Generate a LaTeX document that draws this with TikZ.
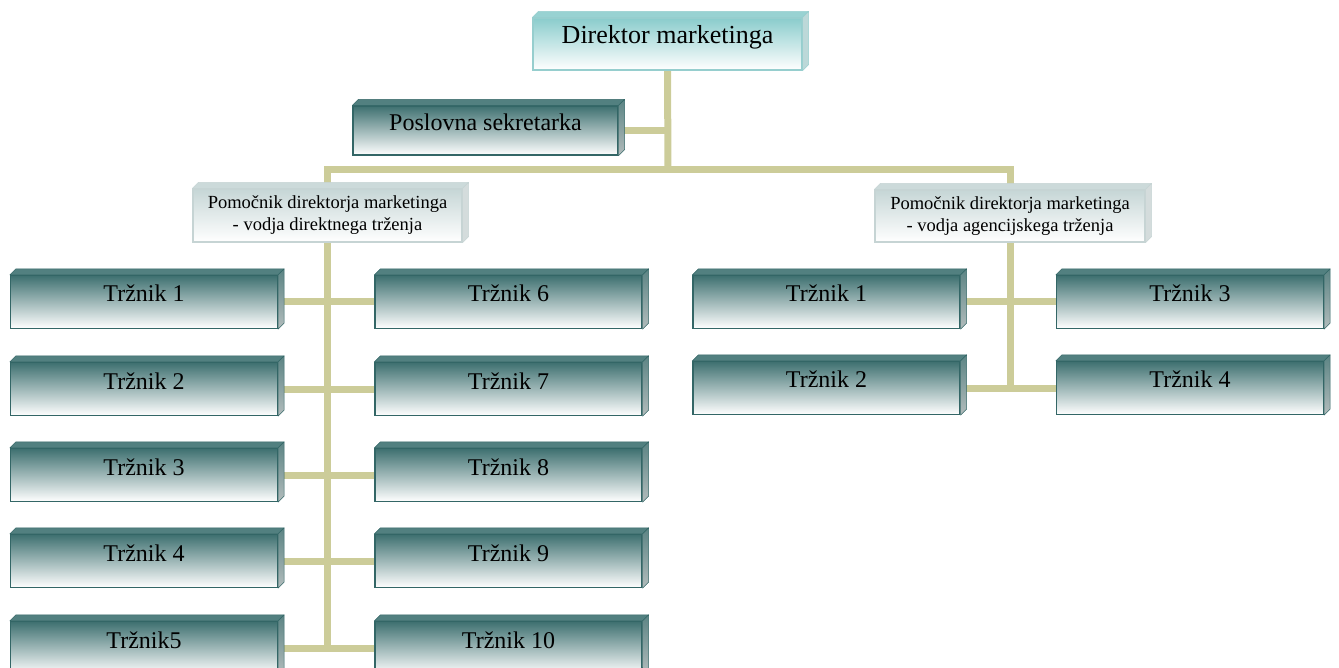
\documentclass[tikz,border=0pt]{standalone}
\usepackage{fontspec}
\setmainfont{Liberation Serif}
\usetikzlibrary{backgrounds,calc}
\definecolor{connc}{RGB}{204,204,153}
\definecolor{darkb}{RGB}{51,102,102}
\definecolor{darkt}{RGB}{62,112,112}
\definecolor{darkm}{RGB}{172,188,188}
\definecolor{darktopc}{RGB}{82,128,128}
\definecolor{darksidet}{RGB}{92,132,132}
\definecolor{darksideb}{RGB}{178,188,188}
\definecolor{lightb}{RGB}{198,212,212}
\definecolor{lightt}{RGB}{198,214,214}
\definecolor{lighttopc}{RGB}{204,218,218}
\definecolor{lightside}{RGB}{212,220,220}
\definecolor{aquab}{RGB}{150,206,206}
\definecolor{aquat}{RGB}{138,204,204}
\definecolor{aquatopc}{RGB}{152,210,210}
\definecolor{aquaside}{RGB}{188,216,216}
\tikzset{
  conn/.style={draw=connc, line width=7pt, line join=miter, line cap=butt},
  boxbase/.style={rectangle, inner sep=0pt, line width=1.2pt, text=black},
  onefont/.style={font=\fontsize{24}{28}\selectfont, text height=9pt, text depth=9pt},
  darkfront/.style={boxbase, onefont, draw=darkb, top color=darkt, middle color=darkm, bottom color=white,
    minimum width=267pt, minimum height=53pt},
  darktop/.style={fill=darktopc, draw=darkb, line width=0.6pt, line join=round},
  darkside/.style={top color=darksidet, bottom color=darksideb, draw=darkb, line width=0.6pt, line join=round},
  lightfront/.style={boxbase, draw=lightb, top color=lightt, bottom color=white,
    font=\fontsize{18.5}{22}\selectfont, align=center, minimum width=269pt, minimum height=53pt},
  lighttop/.style={fill=lighttopc, draw=lightb, line width=0.6pt, line join=round},
  lightside/.style={fill=lightside, draw=lightb, line width=0.6pt, line join=round},
  aquafront/.style={boxbase, draw=aquab, top color=aquat, bottom color=white,
    font=\fontsize{26}{30}\selectfont, text height=9pt, text depth=9pt,
    minimum width=269pt, minimum height=52pt},
  aquatop/.style={fill=aquatopc, draw=aquab, line width=0.6pt, line join=round},
  aquaside/.style={fill=aquaside, draw=aquab, line width=0.6pt, line join=round},
}
\newcommand\dimbox[5][]{%
  \node[#2front,#1] (#3) at (#4) {#5};
  \path[#2top] (#3.north west) -- ++(6,-6) -- ([shift={(6,-6)}]#3.north east) -- (#3.north east) -- cycle;
  \path[#2side] (#3.north east) -- ++(6,-6) -- ([shift={(6,-6)}]#3.south east) -- (#3.south east) -- cycle;
}
\begin{document}
\begin{tikzpicture}[x=1pt,y=-1pt]
\useasboundingbox (0,0) rectangle (1339,668);
% boxes
\dimbox{aqua}{dir}{667.5,44}{Direktor marketinga}
\dimbox[minimum width=265pt, minimum height=49pt]{dark}{sek}{485.5,130.5}{Poslovna sekretarka}
\dimbox{light}{lp}{327.5,215.5}{Pomočnik direktorja marketinga\\- vodja direktnega trženja}
\dimbox[minimum width=270pt, minimum height=52pt]{light}{rp}{1010,216}{Pomočnik direktorja marketinga\\- vodja agencijskega trženja}
% left group
\dimbox{dark}{a1}{144,302}{Tržnik 1}
\dimbox{dark}{a2}{144,389}{Tržnik 2}
\dimbox{dark}{a3}{144,475}{Tržnik 3}
\dimbox{dark}{a4}{144,561}{Tržnik 4}
\dimbox{dark}{a5}{144,648}{Tržnik5}
\dimbox{dark}{b1}{508.5,302}{Tržnik 6}
\dimbox{dark}{b2}{508.5,389}{Tržnik 7}
\dimbox{dark}{b3}{508.5,475}{Tržnik 8}
\dimbox{dark}{b4}{508.5,561}{Tržnik 9}
\dimbox{dark}{b5}{508.5,648}{Tržnik 10}
% right group
\dimbox{dark}{c1}{826.5,302}{Tržnik 1}
\dimbox{dark}{c2}{826.5,388}{Tržnik 2}
\dimbox{dark}{d1}{1190,302}{Tržnik 3}
\dimbox{dark}{d2}{1190,388}{Tržnik 4}
\coordinate (bus) at (668,170);
\begin{scope}[on background layer]
  \draw[conn] (dir.south) -- (bus);
  \draw[conn] (sek.east) -- (sek.east -| bus);
  \draw[conn] (lp.north) -- (lp.north |- bus) -- (rp.north |- bus) -- (rp.north);
  \draw[conn] (lp.south) -- (lp.south |- a5.east);
  \draw[conn] (a1.east) -- (b1.west);
  \draw[conn] (a2.east) -- (b2.west);
  \draw[conn] (a3.east) -- (b3.west);
  \draw[conn] (a4.east) -- (b4.west);
  \draw[conn] (a5.east) -- (b5.west);
  \draw[conn] (rp.south) -- (rp.south |- c2.east);
  \draw[conn] (c1.east) -- (d1.west);
  \draw[conn] (c2.east) -- (d2.west);
\end{scope}
\end{tikzpicture}
\end{document}
